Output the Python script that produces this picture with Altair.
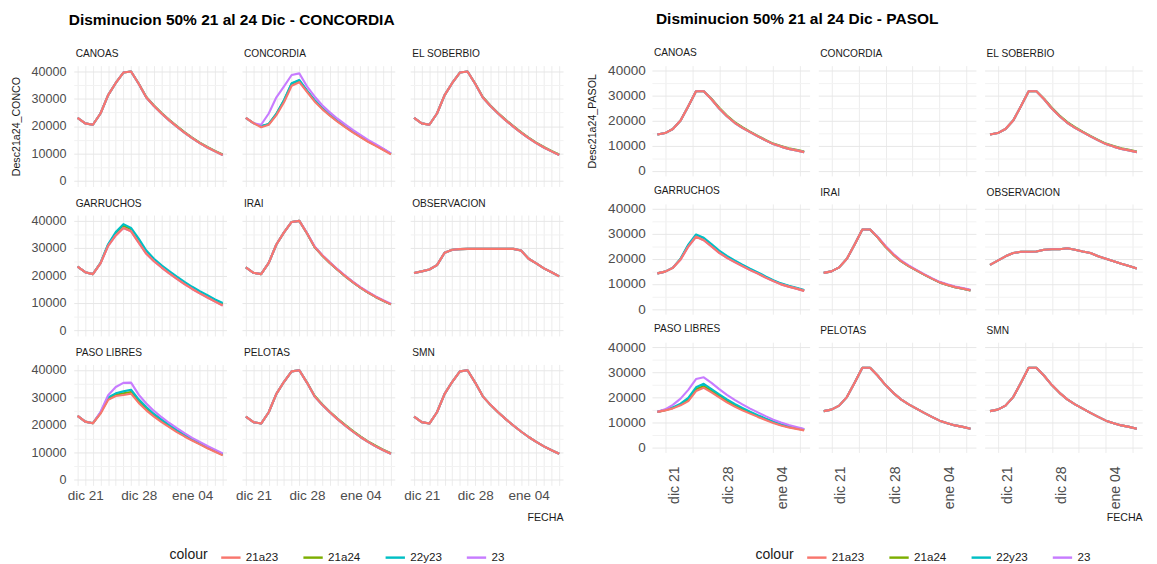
import altair as alt
import pandas as pd

FONT = "Liberation Sans"

DATES = ["2023-12-20", "2023-12-21", "2023-12-22", "2023-12-23", "2023-12-24",
         "2023-12-25", "2023-12-26", "2023-12-27", "2023-12-28", "2023-12-29",
         "2023-12-30", "2023-12-31", "2024-01-01", "2024-01-02", "2024-01-03",
         "2024-01-04", "2024-01-05", "2024-01-06", "2024-01-07", "2024-01-08"]

SERIES = ["21a23", "21a24", "22y23", "23"]
COLORS = ["#F8766D", "#7CAE00", "#00BFC4", "#C77CFF"]
DRAW_ORDER = ["21a24", "22y23", "23", "21a23"]

STATIONS = ["CANOAS", "CONCORDIA", "EL SOBERBIO", "GARRUCHOS", "IRAI",
            "OBSERVACION", "PASO LIBRES", "PELOTAS", "SMN"]

TICK_DATES = ["2023-12-21", "2023-12-28", "2024-01-04"]
TICK_LABELS = ["dic 21", "dic 28", "ene 04"]

# ---------------- CONCORDIA (left) values ----------------
CONCO_BASE = [23000, 21000, 20500, 24600, 31300, 35700, 39500, 39900, 35400, 30400,
              27300, 24600, 22100, 19800, 17600, 15600, 13800, 12200, 10800, 9500]
CONCO_BASE_B = [23000, 21000, 20500, 24600, 31300, 35700, 39500, 39900, 35500, 30600,
                27500, 24800, 22300, 20000, 17800, 15800, 14000, 12400, 11000, 9700]

CONCO_CONCORDIA_21A23 = [23000, 21100, 19600, 20500, 24000, 28700, 34700, 36000, 32500, 29000,
                         26200, 23800, 21600, 19600, 17700, 16000, 14300, 12800, 11300, 9700]
CONCO_CONCORDIA_21A24 = [23000, 21100, 19900, 20700, 24400, 29300, 35400, 36600, 32800, 29300,
                         26500, 24000, 21800, 19800, 17900, 16200, 14500, 13000, 11500, 9900]
CONCO_CONCORDIA_22Y23 = [23000, 21100, 20000, 20800, 24500, 29500, 35600, 36800, 33000, 29500,
                         26700, 24200, 22000, 20000, 18100, 16300, 14600, 13100, 11600, 10000]
CONCO_CONCORDIA_23 = [23000, 21100, 20500, 24600, 30500, 34500, 38600, 39200, 34500, 30800,
                      27600, 25000, 22700, 20600, 18600, 16800, 15000, 13400, 11800, 10100]

CONCO_GARRUCHOS_21A23 = [23200, 21200, 20500, 24400, 30800, 34600, 37300, 36100, 32000, 27900,
                         25200, 22900, 20800, 18800, 16900, 15100, 13500, 12000, 10500, 9100]
CONCO_GARRUCHOS_21A24 = [23200, 21200, 20500, 24500, 31100, 35200, 38000, 36700, 32700, 28500,
                         25600, 23300, 21200, 19200, 17300, 15500, 13900, 12400, 10900, 9500]
CONCO_GARRUCHOS_22Y23 = [23200, 21200, 20500, 24600, 31400, 35800, 38700, 37300, 33400, 29100,
                         26100, 23700, 21600, 19600, 17700, 15900, 14300, 12800, 11300, 10000]

CONCO_PASO_21A23 = [23300, 21200, 20600, 24100, 29100, 30500, 30900, 31400, 28000, 25300,
                    23000, 21000, 19200, 17400, 15800, 14300, 12900, 11500, 10200, 8900]
CONCO_PASO_21A24 = [23300, 21200, 20600, 24300, 29500, 31000, 31500, 32000, 28600, 25800,
                    23400, 21400, 19500, 17700, 16100, 14500, 13100, 11700, 10400, 9100]
CONCO_PASO_22Y23 = [23300, 21200, 20600, 24500, 30000, 31500, 32200, 32800, 29300, 26500,
                    24000, 21900, 20000, 18100, 16400, 14800, 13300, 11900, 10600, 9300]
CONCO_PASO_23 = [23300, 21200, 20600, 24700, 30800, 33800, 35300, 35400, 31000, 27800,
                 25100, 22800, 20700, 18800, 17000, 15300, 13800, 12300, 11000, 9600]

CONCO_OBS = [20900, 21500, 22200, 23800, 28300, 29400, 29600, 29700, 29700, 29700,
             29700, 29700, 29700, 29700, 29100, 26100, 24400, 22600, 21200, 19700]

# ---------------- PASOL (right) values ----------------
PASOL_BASE = [14500, 15100, 16700, 20100, 25800, 31800, 31800, 28600, 24900, 21800,
              19200, 17200, 15500, 13800, 12200, 10700, 9700, 8800, 8200, 7500]
PASOL_BASE_B = [14500, 15100, 16700, 20100, 25800, 31800, 31800, 28800, 25200, 22100,
                19500, 17500, 15700, 14000, 12400, 10900, 9900, 9000, 8400, 7700]

PASOL_GARRUCHOS_21A23 = [14300, 15000, 16500, 19800, 25000, 28900, 27500, 25000, 22500, 20500,
                         18800, 17200, 15600, 14200, 12600, 11200, 9900, 9000, 8200, 7300]
PASOL_GARRUCHOS_21A24 = [14300, 15000, 16500, 20000, 25400, 29300, 28000, 25500, 23000, 20900,
                         19100, 17500, 15900, 14400, 12800, 11400, 10100, 9100, 8300, 7400]
PASOL_GARRUCHOS_22Y23 = [14300, 15000, 16600, 20200, 25800, 29800, 28500, 26000, 23400, 21300,
                         19500, 17800, 16200, 14700, 13100, 11600, 10300, 9300, 8500, 7600]

PASOL_PASO_21A23 = [14200, 14800, 15600, 16800, 18500, 22500, 23800, 22000, 20000, 18000,
                    16300, 14800, 13500, 12200, 11000, 9800, 8800, 8000, 7400, 6800]
PASOL_PASO_21A24 = [14200, 14900, 15800, 17100, 19100, 23200, 24500, 22600, 20600, 18600,
                    16800, 15300, 13900, 12500, 11300, 10100, 9000, 8200, 7600, 7000]
PASOL_PASO_22Y23 = [14200, 15000, 16000, 17500, 19800, 24000, 25400, 23300, 21200, 19200,
                    17400, 15800, 14300, 12900, 11600, 10400, 9300, 8500, 7800, 7200]
PASOL_PASO_23 = [14200, 15200, 17000, 19500, 23000, 27300, 28000, 25800, 23300, 21000,
                 19000, 17200, 15500, 14000, 12500, 11100, 10000, 9000, 8200, 7400]

PASOL_OBS = [17700, 19400, 21100, 22400, 22900, 22900, 23000, 23700, 23900, 23900,
             24300, 23700, 23000, 22400, 21100, 20100, 19100, 18100, 17200, 16200]

CONCO_VALUES = {
    "CANOAS": {"21a23": CONCO_BASE, "21a24": CONCO_BASE_B, "22y23": CONCO_BASE, "23": CONCO_BASE},
    "CONCORDIA": {"21a23": CONCO_CONCORDIA_21A23, "21a24": CONCO_CONCORDIA_21A24,
                  "22y23": CONCO_CONCORDIA_22Y23, "23": CONCO_CONCORDIA_23},
    "EL SOBERBIO": {"21a23": CONCO_BASE, "21a24": CONCO_BASE_B, "22y23": CONCO_BASE, "23": CONCO_BASE},
    "GARRUCHOS": {"21a23": CONCO_GARRUCHOS_21A23, "21a24": CONCO_GARRUCHOS_21A24,
                  "22y23": CONCO_GARRUCHOS_22Y23, "23": CONCO_GARRUCHOS_21A23},
    "IRAI": {"21a23": CONCO_BASE, "21a24": CONCO_BASE, "22y23": CONCO_BASE, "23": CONCO_BASE_B},
    "OBSERVACION": {"21a23": CONCO_OBS, "21a24": CONCO_OBS, "22y23": CONCO_OBS, "23": CONCO_OBS},
    "PASO LIBRES": {"21a23": CONCO_PASO_21A23, "21a24": CONCO_PASO_21A24,
                    "22y23": CONCO_PASO_22Y23, "23": CONCO_PASO_23},
    "PELOTAS": {"21a23": CONCO_BASE, "21a24": CONCO_BASE_B, "22y23": CONCO_BASE, "23": CONCO_BASE},
    "SMN": {"21a23": CONCO_BASE, "21a24": CONCO_BASE, "22y23": CONCO_BASE, "23": CONCO_BASE},
}

PASOL_VALUES = {
    "CANOAS": {"21a23": PASOL_BASE, "21a24": PASOL_BASE_B, "22y23": PASOL_BASE, "23": PASOL_BASE},
    "CONCORDIA": {},
    "EL SOBERBIO": {"21a23": PASOL_BASE, "21a24": PASOL_BASE_B, "22y23": PASOL_BASE, "23": PASOL_BASE},
    "GARRUCHOS": {"21a23": PASOL_GARRUCHOS_21A23, "21a24": PASOL_GARRUCHOS_21A24,
                  "22y23": PASOL_GARRUCHOS_22Y23, "23": PASOL_GARRUCHOS_21A23},
    "IRAI": {"21a23": PASOL_BASE, "21a24": PASOL_BASE, "22y23": PASOL_BASE, "23": PASOL_BASE_B},
    "OBSERVACION": {"21a23": PASOL_OBS, "21a24": PASOL_OBS, "22y23": PASOL_OBS, "23": PASOL_OBS},
    "PASO LIBRES": {"21a23": PASOL_PASO_21A23, "21a24": PASOL_PASO_21A24,
                    "22y23": PASOL_PASO_22Y23, "23": PASOL_PASO_23},
    "PELOTAS": {"21a23": PASOL_BASE, "21a24": PASOL_BASE, "22y23": PASOL_BASE, "23": PASOL_BASE},
    "SMN": {"21a23": PASOL_BASE, "21a24": PASOL_BASE, "22y23": PASOL_BASE, "23": PASOL_BASE},
}


def to_frame(values):
    rows = []
    for st, ser in values.items():
        for s, vals in ser.items():
            for d, v in zip(DATES, vals):
                rows.append({"estacion": st, "serie": s, "fecha": d, "valor": v})
    return pd.DataFrame(rows)


def ms(ts):
    return int(pd.Timestamp(ts, tz="UTC").value // 10**6)


def day_range(start, end, step_hours):
    out = []
    t = pd.Timestamp(start, tz="UTC")
    stop = pd.Timestamp(end, tz="UTC")
    while t <= stop:
        out.append(int(t.value // 10**6))
        t = t + pd.Timedelta(hours=step_hours)
    return out


XLABEL_EXPR = " : ".join(
    f"utcFormat(datum.value, '%Y-%m-%d') === '{d}' ? '{l}'" for d, l in zip(TICK_DATES, TICK_LABELS)
) + " : ''"

YGRID = list(range(0, 40001, 5000))
Y_GRID_COLOR = {"condition": {"test": "datum.value % 10000 === 0", "value": "#E6E6E6"}, "value": "#F2F2F2"}

LABEL_GRAY = "#4D4D4D"


def build_side(values, title, ytitle, cfg):
    df = to_frame(values)
    panels = []
    for idx, st in enumerate(STATIONS):
        row, col = divmod(idx, 3)
        bottom = row == 2
        left = col == 0
        xaxis = alt.Axis(
            values=cfg["xgrid"], labelExpr=XLABEL_EXPR, labels=bottom, ticks=False, domain=False,
            grid=True, gridColor="#EBEBEB", gridWidth=1, labelAngle=cfg["angle"],
            labelBaseline=cfg["baseline"], labelAlign=cfg["align"], labelOffset=cfg["loffx"],
            labelFontSize=cfg["xfs"], labelColor=LABEL_GRAY, labelFont=FONT,
            labelPadding=cfg["xpad"], labelOverlap=False, labelFlush=False,
            title=("FECHA" if (bottom and col == 2) else None), titleAnchor="end", titleAlign="right",
            titleFontSize=11, titleFontWeight="normal", titleFont=FONT, titleColor="#1a1a1a",
            titlePadding=cfg["ftpad"])
        yaxis = alt.Axis(
            values=YGRID, format="d", labelExpr="datum.value % 10000 === 0 ? datum.label : ''",
            labels=left, ticks=False, domain=False, grid=True, gridColor=Y_GRID_COLOR, gridWidth=1,
            labelFontSize=cfg["yfs"], labelColor=LABEL_GRAY, labelFont=FONT, labelPadding=cfg["ypad"],
            title=(ytitle if (left and row == 0) else None), titleFontSize=11, titleFontWeight="normal",
            titleFont=FONT, titleColor="#1a1a1a", titlePadding=cfg["ytpad"])
        layers = []
        for s in DRAW_ORDER:
            layers.append(
                alt.Chart(df).mark_line(strokeWidth=2.2, strokeJoin="round").encode(
                    x=alt.X("fecha:T", scale=alt.Scale(type="utc", domain=cfg["xdomain"]), axis=xaxis),
                    y=alt.Y("valor:Q", scale=alt.Scale(domain=[-2000, 42000], nice=False, zero=False), axis=yaxis),
                    color=alt.Color("serie:N", scale=alt.Scale(domain=SERIES, range=COLORS),
                                    legend=alt.Legend(orient="none", legendX=cfg["lx"], legendY=cfg["ly"],
                                                      direction="horizontal", title="colour",
                                                      titleOrient="left", symbolType="stroke",
                                                      symbolStrokeWidth=2.5, symbolSize=400,
                                                      labelFontSize=12, labelFont=FONT, labelColor="#1a1a1a",
                                                      titleFontSize=14.5, titleFont=FONT, titleFontWeight="normal",
                                                      titleColor="#1a1a1a", columnPadding=20,
                                                      titlePadding=12)),
                ).transform_filter(f"datum.estacion === '{st}' && datum.serie === '{s}'")
            )
        panel = alt.layer(*layers).properties(
            width=cfg["w"], height=cfg["h"],
            title=alt.TitleParams(text=st, anchor="start", frame="group", fontSize=10.5, fontWeight="normal",
                                  font=FONT, color="#1a1a1a", offset=6, dx=2))
        panels.append(panel)
    return alt.concat(*panels, columns=3, spacing={"row": cfg["rowsp"], "column": cfg["colsp"]}).properties(
        title=alt.TitleParams(text=title, anchor="start", fontSize=16, fontWeight="bold", font=FONT,
                              color="#000000", offset=22, dx=cfg["tdx"]))


LEFT_CFG = {
    "xgrid": day_range("2023-12-20", "2024-01-08", 24),
    "xdomain": [ms("2023-12-19 12:00"), ms("2024-01-08 12:00")],
    "angle": 0, "baseline": "top", "align": "center", "loffx": 0, "xfs": 14, "yfs": 13, "xpad": 4,
    "ypad": 8, "ftpad": 9, "ytpad": 10, "w": 158, "h": 125, "rowsp": 10.5, "colsp": 9, "tdx": 60,
    "lx": 99, "ly": 497,
}
RIGHT_CFG = {
    "xgrid": day_range("2023-12-21", "2024-01-08", 84),
    "xdomain": [ms("2023-12-19 07:12"), ms("2024-01-08 16:48")],
    "angle": 270, "baseline": "top", "align": "right", "loffx": 3, "xfs": 14.5, "yfs": 14, "xpad": 14,
    "ypad": 7, "ftpad": 3, "ytpad": 10, "w": 163, "h": 114, "rowsp": 8, "colsp": 2, "tdx": 71,
    "lx": 107, "ly": 497,
}

left = build_side(CONCO_VALUES, "Disminucion 50% 21 al 24 Dic - CONCORDIA", "Desc21a24_CONCO", LEFT_CFG)
right = build_side(PASOL_VALUES, "Disminucion 50% 21 al 24 Dic - PASOL", "Desc21a24_PASOL", RIGHT_CFG)

chart = alt.hconcat(left, right, spacing=25).resolve_scale(color="independent").properties(
    padding={"left": 2, "top": -7, "right": 0, "bottom": 0}, background="white"
).configure_view(stroke=None)

chart.save("out.html", embed_options={"renderer": "svg", "actions": False})
